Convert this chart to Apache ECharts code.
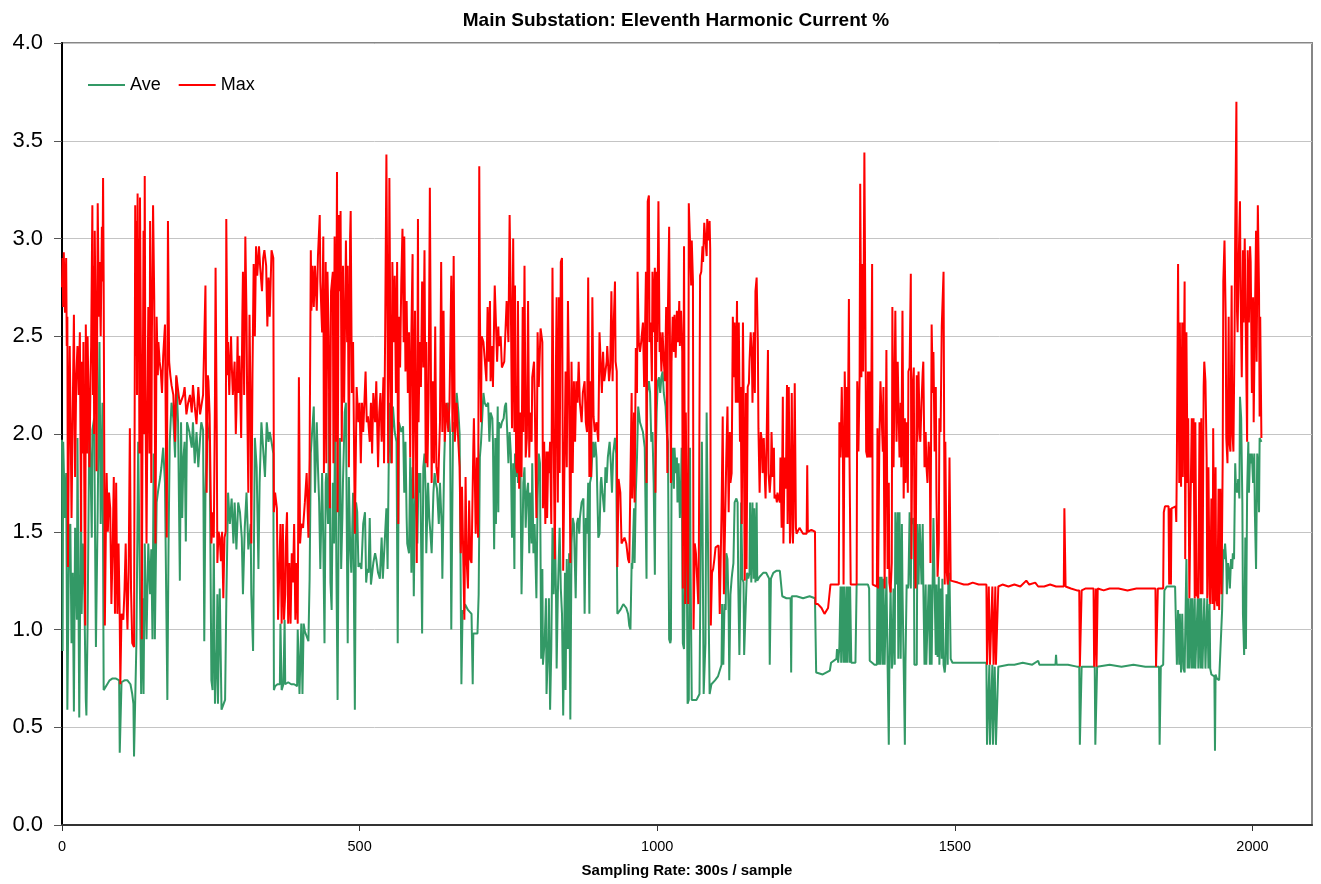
<!DOCTYPE html>
<html>
<head>
<meta charset="utf-8">
<script src="https://cdn.jsdelivr.net/npm/echarts@6/dist/echarts.min.js"></script>
<style>
html,body{margin:0;padding:0;background:#fff;}
#chart{width:1321px;height:884px;}
</style>
</head>
<body>
<div id="chart"></div>
<script>
// ---- data: [sample index, value %] ----
var titleText = 'Main Substation: Eleventh Harmonic Current %';
var xAxisTitle = 'Sampling Rate: 300s / sample';
var seriesNames = ['Ave', 'Max'];
var xTicks = [0, 500, 1000, 1500, 2000];
var yTicks = [0, 0.5, 1, 1.5, 2, 2.5, 3, 3.5, 4];

var maxA = [[0,2.75],[1,2.9],[2,2.65],[3,2.93],[5,2.62],[7,2.9],[8,2.45],[9,2.6],[10,1.32],[12,2.2],[13,2.45],[15,1.9],[16,1.57],[18,2.1],[20,2.61],[22,1.78],[24,2.3],[26,2.45],[28,2.2],[30,2.52],[32,1.5],[33,2.37],[35,1.9],[36,2.47],[38,1.45],[39,1.02],[40,2.56],[42,1.9],[43,2.5],[45,2.1],[46,1.83],[48,2.3],[49,2.45],[51,3.17],[52,2.2],[53,2.86],[54,2.0],[55,3.04],[57,2.4],[58,1.81],[60,3.18],[62,2.6],[63,2.88],[65,2.5],[67,3.06],[68,2.78],[69,3.31],[70,2.78],[72,1.02],[74,1.6],[75,1.8],[77,1.5],[79,1.7],[81,1.62],[83,1.13],[85,1.4],[87,1.78],[89,1.08],[91,1.75],[93,1.08],[95,1.44],[97,1.05],[98,0.72],[100,1.08],[103,1.05],[105,1.2],[107,1.44],[109,1.1],[110,1.0],[112,1.3],[114,2.03],[116,1.2],[118,0.93],[121,0.91],[123,3.17],[124,2.4],[125,3.09],[126,2.2],[127,3.23],[128,2.5],[129,3.0],[130,1.9],[131,3.21],[133,2.2],[134,0.95],[135,1.8],[137,3.04],[138,2.0],[139,3.32],[140,2.3],[142,1.44],[144,2.3],[145,2.65],[147,1.9],[148,3.09],[150,1.75],[151,2.5],[153,3.17],[155,2.68],[157,1.44],[159,2.6],[161,2.3],[162,2.47],[164,2.37],[166,2.32],[168,2.21],[170,2.4],[173,2.56],[175,1.8],[176,1.47],[178,3.09],[180,2.37],[182,2.3],[184,2.25],[187,2.2],[190,1.96],[192,2.3],[195,2.29],[198,2.15],[201,2.16],[204,2.2],[206,2.24],[209,2.1],[212,2.16],[215,2.2],[218,2.11],[220,2.25],[223,2.14],[226,2.05],[229,2.24],[232,2.1],[234,2.11],[237,2.2],[240,2.21],[241,2.76],[243,1.7],[245,2.3],[246,2.27],[248,2.1],[251,1.44],[253,1.6],[255,1.47],[257,2.2],[258,2.85],[260,2.0],[261,1.34],[263,1.5],[265,1.47],[267,1.35],[269,1.5],[271,1.16],[273,1.47],[275,1.5],[276,3.1],[278,2.3],[279,2.47],[281,2.2],[282,2.32],[284,2.5],[285,2.37],[287,2.2],[288,2.21],[290,2.37],[292,2.0],[293,2.11],[295,2.5],[296,2.21],[298,2.4],[299,2.27],[301,1.98],[303,2.6],[304,2.83],[306,2.2],[308,3.01],[310,2.6],[311,2.2],[313,1.7],[315,2.61],[317,2.09],[318,1.44],[320,2.3],[322,2.87],[324,2.5],[326,2.96],[328,2.81],[331,2.96],[333,2.85],[336,2.73],[338,2.9],[340,2.94]];

var maxB = [[343,2.86],[345,2.55],[347,2.8],[349,2.6],[352,2.94],[355,2.9],[356,1.6],[358,1.7],[361,1.62],[363,1.05],[365,1.05],[367,1.54],[369,1.03],[371,1.54],[373,1.05],[375,1.18],[376,1.44],[378,1.6],[380,1.03],[382,1.34],[384,1.03],[386,1.39],[388,1.24],[390,1.54],[392,1.05],[394,1.34],[396,1.03],[398,2.29],[400,1.44],[402,1.54],[405,1.52],[408,1.65],[411,1.8],[414,1.47],[416,1.88],[418,2.94],[419,2.63],[421,2.86],[423,2.65],[425,2.86],[428,2.63],[430,2.91],[433,3.12],[434,2.78],[437,2.52],[439,3.01],[440,1.8],[443,2.88],[444,1.85],[446,2.83],[448,2.5],[450,1.62],[452,2.73],[455,2.83],[456,1.85],[458,3.01],[460,1.96],[462,3.34],[463,1.6],[465,3.12],[467,2.73],[468,3.14],[470,1.96],[472,2.86],[474,2.16],[477,2.99],[479,2.47],[480,2.86],[482,1.83],[484,3.01],[485,3.14],[487,2.21],[489,2.47],[492,1.49],[495,2.24],[498,2.06],[500,2.16],[502,1.85],[504,2.16],[506,2.01],[508,2.16],[510,2.32],[512,2.06],[514,2.09],[517,1.96],[519,2.16],[521,1.9],[523,2.21],[526,2.06],[528,2.27],[531,1.83],[533,2.11],[535,2.21],[537,1.96],[540,2.29],[541,1.85],[543,2.55],[545,3.43],[547,2.47],[548,1.85],[550,3.31],[552,2.27],[554,1.85],[555,2.88],[557,2.47],[559,2.81],[561,2.21],[563,2.88],[565,1.54],[566,2.6],[568,2.34],[570,2.78],[572,3.05],[574,2.47],[575,3.01],[577,2.32],[579,2.68],[581,2.21],[583,2.52],[585,1.88],[587,2.52],[589,2.92],[590,1.67],[593,2.63],[594,2.21],[596,1.34],[598,3.1],[599,2.06],[601,2.47],[603,2.24],[605,2.78],[607,2.34],[609,2.94],[611,1.85],[612,2.47],[614,1.83],[616,2.21],[618,3.26],[620,2.21],[621,1.75],[623,2.27],[625,1.85],[627,2.55],[629,1.83],[632,1.75],[635,2.06],[637,2.88],[639,2.01],[641,2.63],[643,1.96],[646,2.16],[649,2.01],[651,2.16],[654,2.81],[656,2.01],[658,2.91],[660,1.96],[663,2.16],[665,2.01],[668,1.83],[670,1.39],[672,1.73],[674,1.39],[676,1.05]];

var maxC = [[678,1.78],[680,1.34],[682,1.21],[684,1.66],[686,1.36],[688,1.34],[691,1.93],[692,2.08],[695,1.49],[697,1.88],[699,1.47],[701,3.37],[702,2.65],[704,2.06],[705,2.5],[708,2.47],[710,2.39],[713,2.27],[715,2.65],[717,2.37],[719,2.68],[720,2.27],[723,2.45],[724,2.24],[727,2.76],[729,2.57],[731,2.37],[733,2.55],[734,2.45],[737,2.5],[739,2.34],[743,2.37],[745,2.37],[747,2.68],[750,2.47],[752,3.12],[754,2.68],[756,2.03],[758,3.0],[760,2.01],[761,2.76],[763,1.83],[765,1.8],[766,2.68],[768,1.72],[770,2.11],[772,1.78],[774,2.65],[775,2.01],[777,2.86],[779,1.88],[781,1.98],[783,2.68],[785,1.88],[786,2.11],[789,1.96],[790,2.29],[793,2.37],[794,2.21],[797,1.57],[799,2.52],[801,2.24],[804,2.54],[807,2.47],[808,1.62],[810,1.96],[812,1.54],[814,1.91],[815,1.57],[817,1.91],[818,1.8],[820,1.96],[822,1.54],[824,2.85],[826,1.96],[828,1.36],[830,2.42],[831,2.7],[833,1.65],[835,2.7],[836,1.8],[838,2.88],[840,2.9],[842,1.3],[845,1.29],[846,2.32],[848,1.83],[850,2.68],[852,2.21],[854,1.34],[856,2.37],[858,1.8],[860,2.27],[862,1.96],[864,2.27],[866,2.16],[868,2.37],[870,2.16],[873,2.06],[875,2.21],[878,2.27],[880,2.06],[882,2.01],[884,2.8],[886,1.78],[887,2.27],[889,1.78],[891,2.7],[893,2.09],[895,2.01],[898,2.06],[901,1.96],[903,2.52],[905,2.37],[907,2.21],[909,2.42],[911,2.27],[913,2.27],[915,2.37],[916,2.45],[919,2.27],[921,2.34],[923,2.73],[925,2.27],[926,2.47],[929,2.78],[930,2.37],[932,2.32],[933,1.32],[935,1.77],[938,1.7],[940,1.44],[943,1.44],[945,1.47],[948,1.44],[951,1.36],[953,1.34],[955,1.78],[957,2.21],[958,1.67],[961,2.11],[962,1.65],[964,2.44],[966,2.21],[967,2.83],[969,2.47],[971,2.42],[973,2.47],[976,2.57],[978,2.24],[980,2.63],[981,2.83],[982,1.75],[984,3.19],[986,3.22],[987,2.47],[989,2.57],[991,2.27],[992,2.83],[994,2.52],[996,2.85],[997,1.7],[999,2.83],[1000,2.47],[1002,3.19],[1004,2.42],[1005,2.52],[1007,2.32],[1009,2.52],[1011,2.37],[1013,2.27],[1015,2.65],[1017,1.8],[1018,2.64],[1020,3.06]];

var maxD = [[1023,1.75],[1024,2.37],[1026,2.6],[1028,2.42],[1029,2.61],[1031,2.39],[1033,2.63],[1035,2.47],[1037,2.68],[1038,2.45],[1040,2.63],[1042,2.42],[1043,1.21],[1045,2.96],[1047,1.13],[1048,2.11],[1050,1.44],[1052,1.13],[1053,3.18],[1055,2.99],[1057,2.76],[1058,2.99],[1060,2.78],[1061,1.0],[1063,1.44],[1065,1.39],[1067,1.39],[1069,1.13],[1070,1.44],[1072,2.81],[1074,2.83],[1076,2.96],[1077,2.88],[1079,3.08],[1081,2.99],[1083,2.91],[1084,3.1],[1086,2.99],[1088,3.09],[1089,2.94],[1090,1.02],[1092,1.29],[1094,1.31],[1096,1.36],[1098,1.42],[1099,1.42],[1101,1.42],[1103,1.43],[1105,1.08],[1107,1.08],[1108,1.6],[1110,2.09],[1112,1.18],[1114,1.54],[1116,1.88],[1118,2.14],[1120,1.6],[1122,2.01],[1123,1.75],[1125,1.8],[1127,2.6],[1129,2.29],[1130,2.57],[1132,2.16],[1134,2.68],[1135,2.16],[1137,2.57],[1139,1.96],[1140,2.24],[1142,1.54],[1144,2.57],[1145,2.26],[1147,1.25],[1149,2.21],[1150,1.31],[1152,2.24],[1154,2.26],[1155,2.37],[1157,2.52],[1159,2.39],[1160,2.16],[1162,2.52],[1164,2.21],[1165,2.73],[1167,2.8],[1169,2.47],[1170,2.03],[1172,1.7],[1174,2.01],[1176,1.96],[1177,1.8],[1179,1.98],[1181,1.75],[1182,1.67],[1184,2.01],[1186,2.43],[1187,1.8],[1189,1.7],[1191,1.8],[1192,2.01],[1194,1.78],[1196,1.93],[1197,1.67],[1199,1.69],[1201,1.65],[1202,1.7],[1204,1.67],[1206,1.65],[1207,1.88],[1209,1.52],[1211,2.19],[1212,1.44],[1214,1.88],[1216,1.72],[1218,2.25],[1219,1.54],[1221,2.24],[1223,1.44],[1224,1.5],[1226,2.21],[1228,1.44],[1229,1.57],[1231,2.26],[1233,1.52],[1234,1.49],[1239,1.52],[1245,1.49],[1251,1.49],[1252,1.84],[1253,1.5],[1259,1.51],[1265,1.5],[1266,1.13],[1270,1.13],[1276,1.11],[1281,1.08],[1287,1.11],[1290,1.11],[1291,1.23],[1298,1.23],[1305,1.23],[1306,2.06],[1308,1.88],[1310,2.24],[1312,1.88],[1313,1.23],[1315,2.32],[1317,1.88],[1318,2.24],[1320,1.88],[1322,2.69],[1323,1.88],[1325,1.23],[1329,1.23],[1335,1.23],[1336,2.27],[1338,1.91],[1340,2.29],[1341,3.28],[1343,2.29],[1345,2.87],[1346,2.32],[1348,3.44],[1349,3.44],[1351,1.91],[1353,1.88],[1354,2.32],[1356,1.88],[1357,2.32],[1359,1.88],[1361,2.87],[1362,1.23]];

var maxE = [[1365,1.22],[1369,1.22],[1370,2.03],[1371,1.21],[1373,1.91],[1375,2.27],[1377,2.27],[1379,1.91],[1380,2.24],[1382,1.21],[1384,1.21],[1385,2.43],[1387,1.31],[1389,1.75],[1390,1.24],[1392,1.19],[1394,1.34],[1395,2.65],[1397,1.83],[1399,2.34],[1400,2.63],[1402,1.96],[1404,2.37],[1405,2.19],[1407,1.88],[1409,2.16],[1410,1.83],[1412,2.63],[1414,1.67],[1416,2.08],[1417,1.75],[1419,2.06],[1421,1.7],[1422,2.32],[1424,2.34],[1426,2.82],[1427,1.36],[1429,2.24],[1431,2.34],[1432,1.6],[1434,1.21],[1436,2.3],[1437,1.96],[1439,2.32],[1441,2.0],[1442,1.96],[1444,2.16],[1446,2.32],[1447,2.37],[1449,1.83],[1451,2.01],[1452,1.85],[1454,1.75],[1456,1.96],[1458,1.85],[1459,1.34],[1461,2.56],[1463,2.21],[1464,2.42],[1466,1.91],[1468,2.24],[1469,1.7],[1471,1.27],[1473,1.44],[1474,2.08],[1476,2.01],[1478,2.55],[1479,2.55],[1481,2.83],[1483,1.23],[1484,1.96],[1486,1.31],[1488,1.23],[1489,1.26],[1491,1.88],[1493,1.25],[1494,1.25],[1505,1.24],[1515,1.23],[1522,1.23],[1530,1.24],[1540,1.23],[1553,1.23],[1554,0.82],[1556,0.82],[1557,1.22],[1558,1.22],[1559,0.82],[1562,0.82],[1563,1.22],[1564,1.22],[1565,0.82],[1567,0.82],[1568,1.22],[1569,0.82],[1572,0.82],[1573,1.22],[1580,1.23],[1590,1.22],[1600,1.23],[1610,1.22],[1620,1.25],[1625,1.23],[1635,1.24],[1640,1.22],[1650,1.22],[1660,1.23],[1670,1.22],[1683,1.22],[1684,1.62],[1685,1.62],[1686,1.22],[1695,1.21],[1705,1.2],[1709,1.2],[1710,0.81],[1712,0.81],[1713,1.2]];

var maxF = [[1720,1.21],[1733,1.21],[1734,0.81],[1736,0.81],[1737,1.21],[1738,0.81],[1739,0.81],[1740,1.21],[1750,1.2],[1760,1.21],[1775,1.21],[1790,1.2],[1805,1.21],[1820,1.21],[1837,1.21],[1838,0.81],[1840,0.81],[1841,1.21],[1850,1.21],[1851,1.6],[1853,1.63],[1859,1.63],[1860,1.23],[1861,1.62],[1863,1.23],[1864,1.62],[1871,1.63],[1872,1.55],[1873,1.87],[1875,2.87],[1877,1.75],[1878,2.57],[1880,1.73],[1882,2.57],[1883,1.78],[1886,2.78],[1887,1.36],[1889,2.52],[1891,1.75],[1892,2.08],[1894,1.16],[1896,1.65],[1898,2.08],[1899,1.75],[1901,2.08],[1903,1.16],[1904,2.06],[1906,1.18],[1908,1.18],[1909,1.16],[1911,2.06],[1913,1.18],[1914,2.08],[1916,1.18],[1918,2.24],[1919,2.37],[1921,2.27],[1923,1.88],[1924,1.16],[1926,1.83],[1928,1.18],[1929,1.13],[1931,1.67],[1933,1.13],[1934,2.03],[1936,1.1],[1938,1.83],[1939,1.16],[1941,1.12],[1943,1.72],[1944,1.1],[1946,1.72],[1948,1.18],[1950,1.88],[1951,2.78],[1953,2.99],[1955,2.6],[1956,1.98],[1958,1.85],[1960,2.6],[1961,1.96],[1963,1.91],[1965,2.76],[1966,2.03],[1968,1.91],[1970,2.55],[1971,3.04],[1973,3.7],[1974,2.63],[1975,2.52],[1977,2.91],[1979,3.19],[1980,2.73],[1982,2.29],[1984,2.94],[1985,2.57],[1987,3.0],[1989,2.47],[1991,1.96],[1992,2.94],[1994,2.57],[1996,2.96],[1997,2.88],[1999,2.21],[2001,2.7],[2002,2.06],[2004,2.57],[2006,3.04],[2007,2.37],[2009,3.17],[2011,2.73],[2012,2.09],[2013,2.6],[2015,1.98]];

var aveA = [[0,1.97],[1,0.89],[2,1.96],[5,1.57],[7,1.8],[9,0.59],[12,1.52],[14,1.54],[16,0.93],[18,1.29],[20,0.58],[22,1.52],[25,1.05],[26,1.98],[29,0.55],[32,1.72],[33,1.08],[35,1.44],[37,1.29],[40,0.64],[41,0.56],[43,1.03],[46,2.06],[48,1.83],[50,1.47],[51,2.02],[54,2.08],[57,0.91],[60,1.62],[63,2.47],[65,1.54],[68,2.16],[70,0.69],[72,0.69],[76,0.72],[80,0.74],[85,0.75],[90,0.75],[96,0.74],[97,0.37],[99,0.37],[100,0.73],[105,0.74],[110,0.74],[115,0.72],[118,0.67],[120,0.62],[121,0.35],[123,0.34],[124,0.35],[125,0.93],[128,1.96],[130,1.44],[133,0.67],[135,1.16],[137,0.67],[139,1.44],[142,0.95],[145,1.44],[148,1.18],[150,1.41],[152,0.95],[154,1.9],[156,0.95],[159,1.65],[162,1.72],[165,1.78],[167,1.83],[170,1.93],[173,1.75],[177,0.64],[179,1.44],[181,1.96],[184,2.16],[187,2.08],[190,1.88],[192,2.29],[195,2.06],[198,1.25],[200,2.06],[202,1.57],[204,1.88],[206,1.96],[208,1.45],[210,2.06],[214,2.01],[218,1.93],[220,2.06],[223,1.85],[226,2.01],[229,1.83],[232,1.98],[234,2.06],[237,2.02],[239,0.94],[241,1.7],[244,2.06],[248,1.96],[251,0.74],[253,0.69],[255,1.44],[257,0.62],[260,0.9],[261,1.18],[262,0.62],[265,1.21],[268,0.59],[271,0.59],[274,0.64],[276,1.13],[279,1.7],[282,1.54],[285,1.67],[288,1.44],[290,1.65],[293,1.41],[296,1.65],[299,1.6],[302,1.47],[304,1.18],[307,1.52],[310,1.7],[313,1.41],[317,1.54],[318,1.18],[321,0.89],[324,1.98],[327,1.83],[330,1.31],[332,1.75],[335,2.06],[338,2.06],[341,1.78]];

var aveB = [[344,2.06],[347,1.96],[349,2.01],[352,1.96],[355,1.9],[356,0.69],[358,0.71],[362,0.72],[366,0.72],[367,1.03],[369,0.69],[372,0.72],[374,1.05],[375,0.72],[380,0.73],[385,0.72],[390,0.72],[395,0.71],[396,1.0],[399,0.67],[402,1.03],[404,0.67],[406,1.03],[408,0.99],[411,1.0],[414,0.94],[416,1.26],[418,1.9],[420,2.0],[423,2.14],[425,1.7],[428,2.06],[430,1.83],[432,1.65],[434,1.31],[437,1.8],[439,1.44],[441,0.93],[443,1.75],[444,1.8],[447,1.54],[449,2.21],[451,1.24],[453,1.1],[455,1.75],[457,1.44],[459,2.16],[461,1.31],[463,0.64],[465,1.7],[467,1.98],[469,1.31],[471,1.57],[472,1.75],[475,2.11],[477,2.16],[479,1.29],[480,0.93],[482,1.78],[484,1.44],[486,1.29],[489,1.7],[492,0.59],[494,1.65],[496,1.6],[498,1.32],[500,1.34],[503,1.31],[506,1.54],[509,1.6],[511,1.24],[513,1.31],[515,1.29],[517,1.57],[519,1.23],[523,1.34],[526,1.39],[528,1.36],[531,1.29],[534,1.26],[537,1.47],[539,1.26],[542,1.44],[545,1.62],[547,1.31],[549,1.88],[551,2.16],[553,1.85],[556,2.14],[559,2.01],[562,1.96],[564,0.93],[566,2.06],[568,2.06],[570,2.01],[573,2.04],[575,1.7],[577,1.96],[579,1.57],[580,1.44],[583,1.39],[585,1.88],[587,1.29],[589,1.83],[591,1.17],[593,1.65],[595,1.85],[597,1.44],[599,1.8],[601,1.7],[602,1.8],[605,0.98],[607,1.83],[609,1.9],[611,1.7],[612,1.39],[615,1.75],[617,1.57],[619,1.49],[621,1.39],[624,1.7],[626,1.8],[628,1.75],[630,1.72],[633,1.54],[635,1.75],[638,1.52],[639,1.26],[642,1.85],[644,2.06],[646,2.11],[649,2.16],[652,2.0],[654,1.0],[657,2.06],[660,2.0],[663,2.21],[666,2.11],[668,2.0],[670,1.13],[671,0.72],[673,1.1],[675,1.08]];

var aveC = [[677,1.13],[682,1.1],[688,1.08],[690,0.72],[691,0.98],[698,0.98],[700,1.18],[702,1.88],[704,1.96],[708,2.21],[710,2.16],[713,2.14],[716,2.16],[718,1.96],[720,2.11],[723,2.08],[724,1.96],[726,1.41],[728,1.98],[729,1.54],[732,2.14],[733,1.6],[734,2.06],[737,2.03],[739,2.06],[742,2.08],[744,2.14],[746,2.16],[748,2.01],[750,1.85],[752,2.01],[754,1.9],[756,1.47],[758,1.85],[760,1.31],[761,1.9],[763,1.78],[765,1.9],[766,1.75],[768,1.85],[770,1.88],[772,1.18],[774,1.52],[775,1.75],[777,1.83],[779,1.52],[781,1.7],[783,1.75],[785,1.39],[786,1.7],[789,1.44],[790,1.85],[792,1.39],[794,1.54],[797,1.16],[799,1.67],[801,1.9],[803,1.85],[805,0.85],[807,1.31],[808,0.82],[811,0.95],[813,1.16],[814,0.67],[817,0.95],[818,1.16],[820,0.59],[822,0.9],[824,1.52],[826,1.18],[828,1.54],[830,1.16],[831,0.8],[833,1.18],[836,1.52],[838,1.21],[840,1.08],[842,0.56],[845,1.29],[846,0.69],[848,1.36],[850,0.9],[852,1.39],[854,0.54],[856,1.44],[858,1.57],[860,1.54],[863,1.16],[865,1.54],[867,1.57],[869,1.49],[870,1.57],[873,1.65],[876,1.67],[878,1.08],[880,1.57],[882,1.49],[884,1.75],[886,1.08],[887,1.75],[889,1.78],[892,1.96],[894,1.88],[896,1.96],[898,1.88],[901,1.47],[903,1.49],[905,1.75],[906,1.78],[908,1.7],[911,1.6],[913,1.83],[915,1.75],[917,1.88],[920,1.96],[922,1.85],[924,1.7],[926,1.9],[929,1.98],[931,1.9],[933,1.08],[938,1.1],[943,1.13],[948,1.11],[951,1.08],[953,1.02],[955,1.0],[957,1.34],[958,1.31],[961,1.62],[962,1.34],[964,1.7],[966,1.88],[968,2.14],[971,2.06],[973,2.06],[976,2.01],[979,1.93],[982,1.26],[983,2.21],[986,2.27],[988,2.21],[990,1.96],[992,2.01],[994,1.75],[996,1.28],[997,1.8],[999,2.11],[1001,2.27],[1003,2.29],[1005,2.21],[1007,2.29],[1009,2.32],[1011,2.21],[1014,2.14],[1016,2.01],[1018,1.96],[1020,0.95],[1022,0.93],[1023,0.95]];

var aveD = [[1024,1.75],[1026,1.93],[1028,1.72],[1029,1.93],[1031,1.8],[1033,1.88],[1034,1.65],[1036,1.85],[1038,1.57],[1040,1.75],[1041,1.93],[1043,0.93],[1045,0.9],[1046,1.21],[1048,1.54],[1050,1.18],[1051,0.62],[1053,0.64],[1055,1.93],[1056,1.31],[1058,0.64],[1060,0.64],[1066,0.64],[1071,0.67],[1073,1.44],[1075,1.96],[1076,1.6],[1078,0.67],[1080,0.67],[1081,0.93],[1083,2.11],[1085,2.11],[1087,0.93],[1088,0.67],[1091,0.72],[1097,0.74],[1102,0.76],[1105,0.77],[1108,0.82],[1109,1.13],[1111,0.82],[1113,1.13],[1115,1.1],[1116,1.39],[1118,1.36],[1120,1.08],[1121,0.74],[1123,1.18],[1125,1.26],[1126,1.29],[1128,1.34],[1130,1.65],[1131,1.65],[1133,1.67],[1135,1.65],[1136,1.26],[1138,0.87],[1140,1.26],[1141,1.65],[1143,1.26],[1145,1.24],[1146,0.87],[1148,0.86],[1150,1.24],[1151,1.29],[1153,1.26],[1155,1.29],[1156,1.65],[1158,1.24],[1160,1.65],[1162,1.26],[1163,1.62],[1165,1.24],[1167,1.65],[1168,1.25],[1172,1.27],[1178,1.29],[1183,1.29],[1188,1.26],[1189,0.82],[1191,1.26],[1195,1.29],[1200,1.3],[1206,1.3],[1208,1.29],[1210,1.17],[1217,1.16],[1224,1.16],[1225,0.78],[1226,1.17],[1234,1.17],[1245,1.16],[1256,1.17],[1265,1.16],[1267,0.78],[1278,0.77],[1290,0.79],[1292,0.83],[1301,0.85],[1302,0.9],[1304,0.83],[1306,0.91],[1308,1.22],[1309,0.83],[1311,1.22],[1313,0.83],[1314,1.22],[1316,0.83],[1318,1.22],[1319,0.83],[1321,1.22],[1323,0.83],[1324,1.22],[1326,0.83],[1333,0.83],[1335,1.23],[1346,1.23],[1354,1.23],[1356,1.21],[1357,0.84]];

var aveE = [[1365,0.82],[1369,0.82],[1370,1.27],[1372,0.82],[1374,1.27],[1375,0.82],[1377,1.27],[1379,0.82],[1380,1.26],[1382,0.82],[1384,0.82],[1385,1.27],[1387,0.82],[1389,0.41],[1390,0.82],[1392,1.22],[1394,0.8],[1395,0.82],[1397,1.21],[1399,0.82],[1400,1.6],[1402,1.23],[1404,1.6],[1405,0.85],[1407,1.6],[1409,0.85],[1411,1.54],[1412,1.21],[1414,0.82],[1416,0.41],[1417,0.82],[1419,1.23],[1421,1.21],[1422,1.23],[1424,1.6],[1426,1.21],[1427,1.57],[1429,1.54],[1431,1.57],[1432,0.82],[1434,0.82],[1436,0.82],[1437,1.54],[1439,1.23],[1441,1.54],[1442,1.54],[1444,1.23],[1446,1.54],[1447,1.23],[1449,0.82],[1451,1.23],[1452,0.82],[1454,0.82],[1456,1.23],[1458,0.82],[1459,1.23],[1461,0.82],[1463,0.82],[1464,1.57],[1466,1.21],[1468,0.87],[1469,1.23],[1471,0.86],[1473,1.27],[1474,0.82],[1476,1.21],[1478,0.85],[1479,1.26],[1481,0.82],[1483,0.78],[1484,0.82],[1486,1.18],[1488,0.82],[1489,1.23],[1491,1.29],[1493,0.85],[1496,0.83],[1510,0.83],[1525,0.83],[1540,0.83],[1553,0.83],[1554,0.41],[1557,0.41],[1558,0.82],[1559,0.41],[1562,0.41],[1563,0.82],[1564,0.41],[1566,0.41],[1567,0.81],[1569,0.41],[1572,0.41],[1573,0.81],[1590,0.82],[1600,0.82],[1614,0.83],[1630,0.82],[1640,0.84],[1642,0.82],[1655,0.82],[1669,0.82],[1670,0.87],[1671,0.82],[1690,0.82],[1705,0.81],[1709,0.81],[1710,0.41],[1712,0.41],[1713,0.81]];

var aveF = [[1720,0.81],[1735,0.81],[1736,0.41],[1738,0.41],[1739,0.81],[1760,0.82],[1780,0.81],[1800,0.82],[1820,0.81],[1843,0.81],[1844,0.41],[1845,0.41],[1846,0.81],[1850,0.82],[1852,1.2],[1856,1.22],[1860,1.22],[1870,1.22],[1872,1.22],[1873,0.82],[1875,1.1],[1877,0.82],[1878,1.08],[1880,0.78],[1882,1.08],[1884,0.8],[1886,0.78],[1888,0.78],[1889,1.36],[1891,0.8],[1892,1.16],[1894,0.8],[1896,1.16],[1898,0.8],[1899,1.16],[1901,0.8],[1903,1.16],[1904,0.8],[1906,0.8],[1908,1.16],[1909,0.8],[1911,1.16],[1913,0.8],[1914,1.16],[1916,0.8],[1918,0.8],[1919,1.16],[1921,0.8],[1923,0.8],[1924,1.16],[1926,0.8],[1928,1.13],[1929,0.8],[1931,0.77],[1934,0.77],[1936,0.76],[1937,0.38],[1938,0.77],[1940,0.75],[1944,0.74],[1947,0.73],[1949,1.1],[1951,1.41],[1952,1.36],[1954,1.44],[1956,1.34],[1957,1.18],[1959,1.34],[1961,1.29],[1962,1.21],[1964,1.36],[1966,1.31],[1967,1.39],[1969,1.36],[1971,1.85],[1972,1.75],[1974,1.7],[1976,1.77],[1978,1.67],[1979,2.19],[1981,2.08],[1983,1.65],[1984,1.08],[1986,0.87],[1988,1.47],[1989,0.9],[1991,1.7],[1993,1.96],[1994,1.7],[1996,1.9],[1997,1.85],[1999,1.9],[2001,1.75],[2003,1.9],[2004,1.6],[2006,1.31],[2008,1.9],[2009,1.85],[2011,1.6],[2012,1.98],[2015,1.96]];

var aveData = [].concat(aveA, aveB, aveC, aveD, aveE, aveF);
var maxData = [].concat(maxA, maxB, maxC, maxD, maxE, maxF);

var chart = echarts.init(document.getElementById('chart'), null, {renderer: 'canvas'});
var FONT = 'Liberation Sans, Arial, Helvetica, sans-serif';
chart.setOption({
  animation: false,
  backgroundColor: '#ffffff',
  textStyle: {fontFamily: FONT},
  title: {
    text: titleText,
    left: 671,
    textAlign: 'center',
    top: 6,
    textStyle: {fontFamily: FONT, fontWeight: 'bold', fontSize: 19, color: '#000'}
  },
  legend: {
    left: 83,
    top: 71,
    icon: 'rect',
    itemWidth: 37,
    itemHeight: 2,
    itemGap: 18,
    textStyle: {fontFamily: FONT, fontSize: 18, color: '#000'},
    data: seriesNames
  },
  grid: {
    left: 62, right: 9, top: 43, bottom: 59,
    show: true,
    borderColor: '#868686',
    borderWidth: 2,
    backgroundColor: '#ffffff'
  },
  xAxis: {
    type: 'value',
    min: 0,
    max: 2100,
    interval: 500,
    name: xAxisTitle,
    nameLocation: 'middle',
    nameGap: 38,
    nameTextStyle: {fontFamily: FONT, fontWeight: 'bold', fontSize: 15, color: '#000'},
    axisLine: {show: true, onZero: false, lineStyle: {color: '#333', width: 2}},
    axisTick: {show: true, length: 6, inside: false, customValues: xTicks, lineStyle: {color: '#333', width: 1}},
    axisLabel: {
      show: true, customValues: xTicks, margin: 14, fontFamily: FONT, fontSize: 14.5, color: '#000',
      formatter: function (v) { return String(Math.round(v)); }
    },
    splitLine: {show: false}
  },
  yAxis: {
    type: 'value',
    min: 0,
    max: 4,
    interval: 0.5,
    axisLine: {show: true, onZero: false, lineStyle: {color: '#000', width: 2}},
    axisTick: {show: true, length: 8, inside: false, lineStyle: {color: '#555', width: 1}},
    axisLabel: {
      margin: 19, fontFamily: FONT, fontSize: 22, color: '#000',
      formatter: function (v) { return v.toFixed(1); }
    },
    splitLine: {show: true, lineStyle: {color: '#c4c4c4', width: 1}}
  },
  series: [
    {
      name: seriesNames[0], type: 'line', data: aveData,
      showSymbol: false, symbol: 'none', sampling: null,
      lineStyle: {color: '#339966', width: 2},
      itemStyle: {color: '#339966'},
      z: 2
    },
    {
      name: seriesNames[1], type: 'line', data: maxData,
      showSymbol: false, symbol: 'none', sampling: null,
      lineStyle: {color: '#ff0000', width: 2},
      itemStyle: {color: '#ff0000'},
      z: 3
    }
  ]
});
</script>
</body>
</html>
